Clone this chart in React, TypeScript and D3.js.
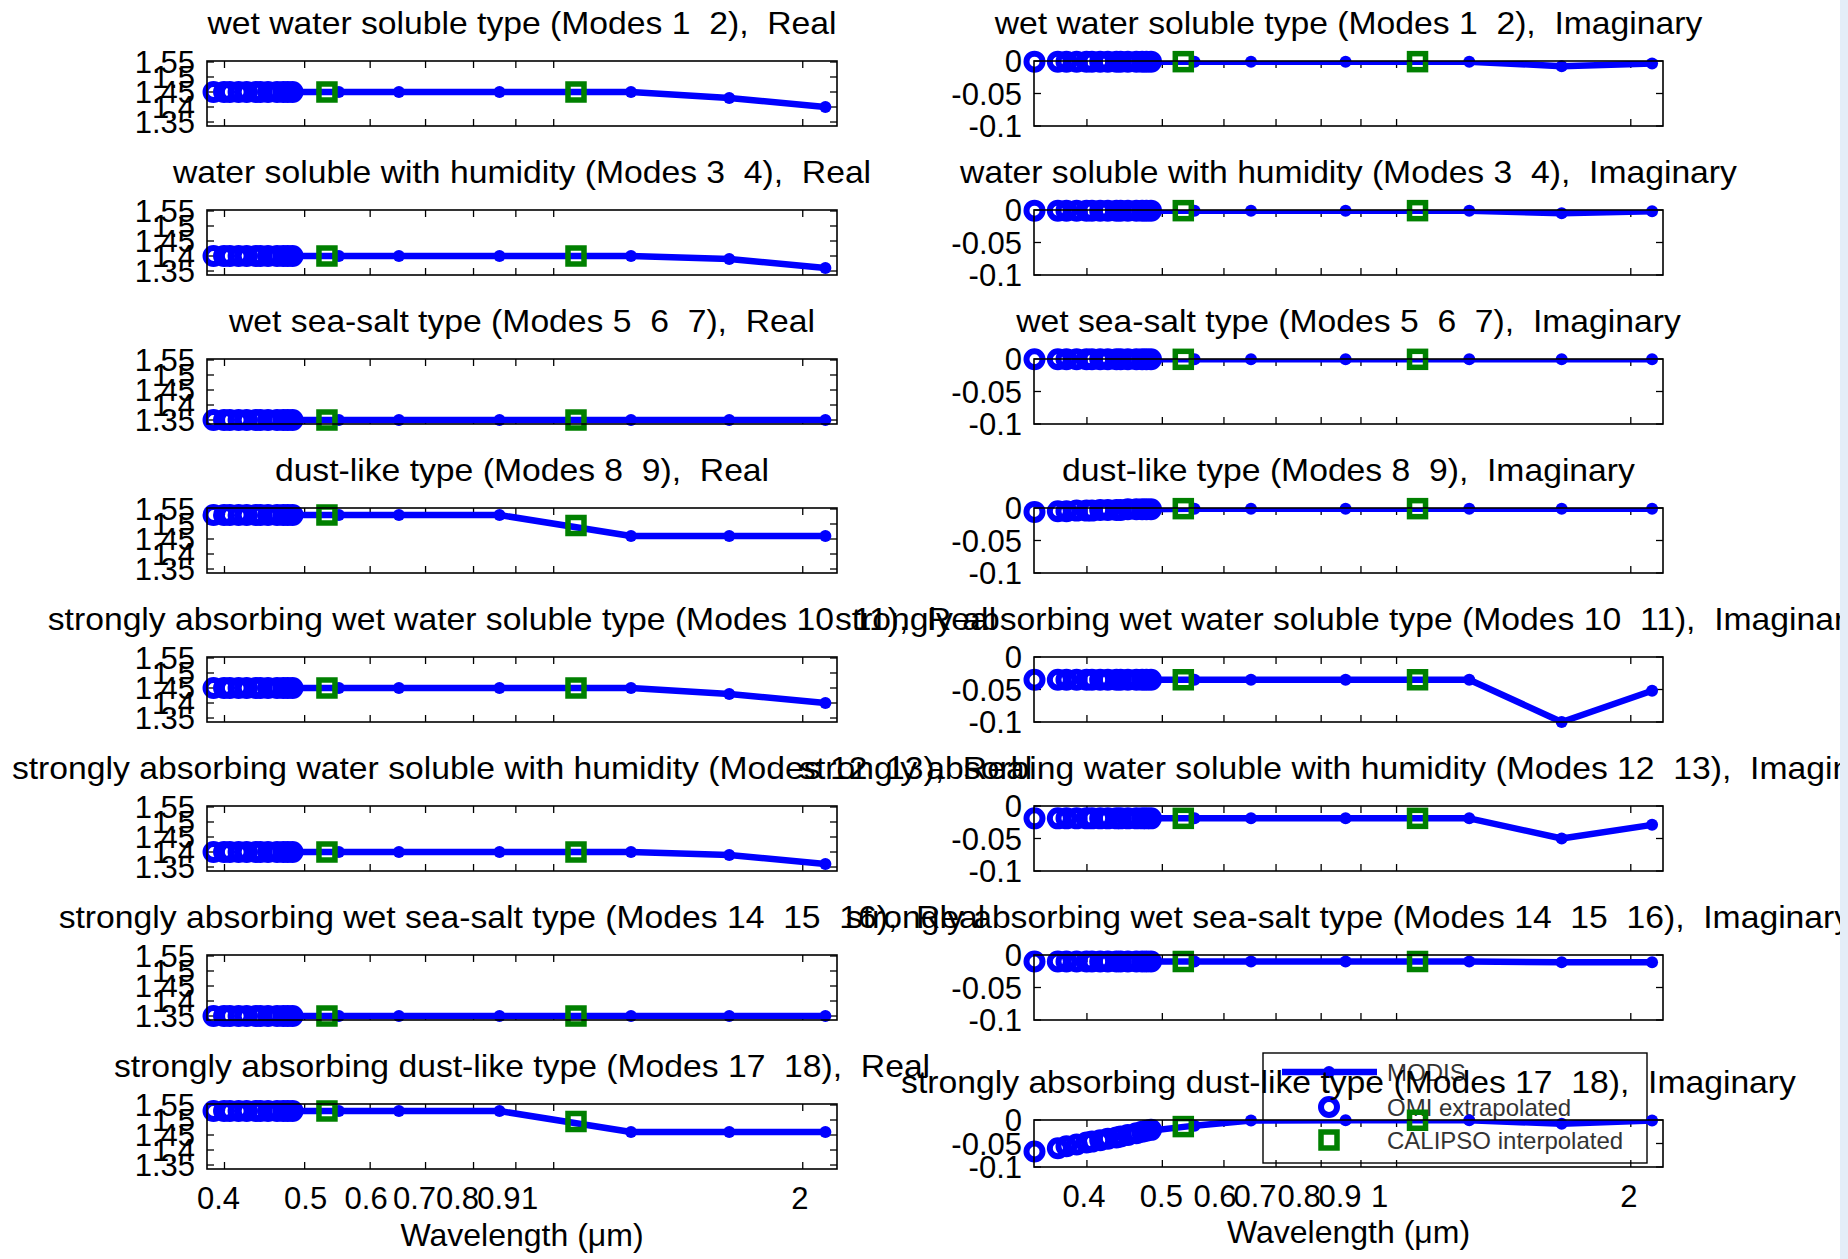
import React from 'react';
import * as d3 from 'd3';

// ---------------- data ----------------
const typeNames = [
  'wet water soluble type (Modes 1  2)',
  'water soluble with humidity (Modes 3  4)',
  'wet sea-salt type (Modes 5  6  7)',
  'dust-like type (Modes 8  9)',
  'strongly absorbing wet water soluble type (Modes 10  11)',
  'strongly absorbing water soluble with humidity (Modes 12  13)',
  'strongly absorbing wet sea-salt type (Modes 14  15  16)',
  'strongly absorbing dust-like type (Modes 17  18)',
];

const modisWl = [0.47, 0.55, 0.65, 0.86, 1.24, 1.63, 2.13];
const calipsoWl = [0.532, 1.064];
const omiRealWl = [0.388, 0.3995, 0.406, 0.416, 0.4255, 0.4365, 0.442, 0.4515, 0.463, 0.471, 0.477, 0.4835];
const omiImagWl = [0.3425, 0.367, 0.3765, 0.388, 0.3995, 0.406, 0.416, 0.4255, 0.4365, 0.442, 0.4515, 0.463, 0.471, 0.477, 0.4835];

const modisReal = [
  [1.45, 1.45, 1.45, 1.45, 1.45, 1.43, 1.40],
  [1.40, 1.40, 1.40, 1.40, 1.40, 1.39, 1.36],
  [1.35, 1.35, 1.35, 1.35, 1.35, 1.35, 1.35],
  [1.53, 1.53, 1.53, 1.53, 1.46, 1.46, 1.46],
  [1.45, 1.45, 1.45, 1.45, 1.45, 1.43, 1.40],
  [1.40, 1.40, 1.40, 1.40, 1.40, 1.39, 1.36],
  [1.35, 1.35, 1.35, 1.35, 1.35, 1.35, 1.35],
  [1.53, 1.53, 1.53, 1.53, 1.46, 1.46, 1.46],
];
const omiReal = [
  [1.45, 1.45, 1.45, 1.45, 1.45, 1.45, 1.45, 1.45, 1.45, 1.45, 1.45, 1.45],
  [1.40, 1.40, 1.40, 1.40, 1.40, 1.40, 1.40, 1.40, 1.40, 1.40, 1.40, 1.40],
  [1.35, 1.35, 1.35, 1.35, 1.35, 1.35, 1.35, 1.35, 1.35, 1.35, 1.35, 1.35],
  [1.53, 1.53, 1.53, 1.53, 1.53, 1.53, 1.53, 1.53, 1.53, 1.53, 1.53, 1.53],
  [1.45, 1.45, 1.45, 1.45, 1.45, 1.45, 1.45, 1.45, 1.45, 1.45, 1.45, 1.45],
  [1.40, 1.40, 1.40, 1.40, 1.40, 1.40, 1.40, 1.40, 1.40, 1.40, 1.40, 1.40],
  [1.35, 1.35, 1.35, 1.35, 1.35, 1.35, 1.35, 1.35, 1.35, 1.35, 1.35, 1.35],
  [1.53, 1.53, 1.53, 1.53, 1.53, 1.53, 1.53, 1.53, 1.53, 1.53, 1.53, 1.53],
];
const calipsoReal = [
  [1.45, 1.45],
  [1.40, 1.40],
  [1.35, 1.35],
  [1.53, 1.495],
  [1.45, 1.45],
  [1.40, 1.40],
  [1.35, 1.35],
  [1.53, 1.495],
];

const modisImag = [
  [-0.001, -0.001, -0.001, -0.001, -0.001, -0.008, -0.004],
  [-0.001, -0.001, -0.001, -0.001, -0.001, -0.005, -0.002],
  [-0.0005, -0.0005, -0.0005, -0.0005, -0.0005, -0.0005, -0.0005],
  [-0.002, -0.001, -0.001, -0.001, -0.001, -0.001, -0.001],
  [-0.035, -0.035, -0.035, -0.035, -0.035, -0.100, -0.052],
  [-0.019, -0.019, -0.019, -0.019, -0.019, -0.050, -0.029],
  [-0.010, -0.010, -0.010, -0.010, -0.010, -0.011, -0.011],
  [-0.025, -0.012, -0.001, -0.0005, -0.0005, -0.008, -0.001],
];
const omiImag = [
  [-0.001, -0.001, -0.001, -0.001, -0.001, -0.001, -0.001, -0.001, -0.001, -0.001, -0.001, -0.001, -0.001, -0.001, -0.001],
  [-0.001, -0.001, -0.001, -0.001, -0.001, -0.001, -0.001, -0.001, -0.001, -0.001, -0.001, -0.001, -0.001, -0.001, -0.001],
  [-0.0005, -0.0005, -0.0005, -0.0005, -0.0005, -0.0005, -0.0005, -0.0005, -0.0005, -0.0005, -0.0005, -0.0005, -0.0005, -0.0005, -0.0005],
  [-0.006, -0.005, -0.005, -0.004, -0.004, -0.004, -0.003, -0.003, -0.003, -0.003, -0.002, -0.002, -0.002, -0.002, -0.002],
  [-0.035, -0.035, -0.035, -0.035, -0.035, -0.035, -0.035, -0.035, -0.035, -0.035, -0.035, -0.035, -0.035, -0.035, -0.035],
  [-0.019, -0.019, -0.019, -0.019, -0.019, -0.019, -0.019, -0.019, -0.019, -0.019, -0.019, -0.019, -0.019, -0.019, -0.019],
  [-0.010, -0.010, -0.010, -0.010, -0.010, -0.010, -0.010, -0.010, -0.010, -0.010, -0.010, -0.010, -0.010, -0.010, -0.010],
  [-0.067, -0.060, -0.056, -0.052, -0.048, -0.046, -0.043, -0.040, -0.037, -0.035, -0.032, -0.028, -0.025, -0.023, -0.021],
];
const calipsoImag = [
  [-0.001, -0.001],
  [-0.001, -0.001],
  [-0.0005, -0.0005],
  [-0.001, -0.001],
  [-0.035, -0.035],
  [-0.019, -0.019],
  [-0.010, -0.010],
  [-0.014, -0.0005],
];

const xTicks = [0.4, 0.5, 0.6, 0.7, 0.8, 0.9, 1, 2];
const xTickLabels = ['0.4', '0.5', '0.6', '0.7', '0.8', '0.9', '1', '2'];
const realTicks = [1.35, 1.4, 1.45, 1.5, 1.55];
const realTickLabels = ['1.35', '1.4', '1.45', '1.5', '1.55'];
const imagTicks = [-0.1, -0.05, 0];
const imagTickLabels = ['-0.1', '-0.05', '0'];
const legendLabels = ['MODIS', 'OMI extrapolated', 'CALIPSO interpolated'];
const xAxisTitle = 'Wavelength (\u03bcm)';

// ---------------- layout / style ----------------
const W = 1848;
const H = 1259;
const FONT = "'Liberation Sans', Arial, Helvetica, sans-serif";
const BLUE = '#0000ff';
const GREEN = '#008000';
const ROW_TOP0 = 61;
const ROW_STEP = 149;
const BOX_H = 65;
const LEFT = { x0: 207, x1: 837, dom: [0.381, 2.2], nudge: [-6, 1, -4, -11, -16, -17, -24, -3] };
const RIGHT = { x0: 1034, x1: 1663, dom: [0.342, 2.2], nudge: [-3, -1, -9, -21, -22, -21, -17, -2] };
const REAL_DOM = [1.3367, 1.5533];
const IMAG_DOM = [-0.1, 0];
const TICK_LEN = 7;
const LINE_W = 6.5;
const DOT_R = 6;
const CIRC_R = 8;
const CIRC_SW = 6;
const SQ = 16;
const SQ_SW = 5.5;

type PanelProps = {
  id: string;
  x0: number; x1: number; y0: number; y1: number;
  xDom: number[]; yDom: number[];
  yTicks: number[]; yLabels: string[];
  title: string;
  modisY: number[]; omiWl: number[]; omiY: number[]; calY: number[];
  showX: boolean;
  xlabBaseline: number;
  nudge: number[];
};

function Panel(p: PanelProps) {
  const x = d3.scaleLog().domain(p.xDom).range([p.x0, p.x1]);
  const y = d3.scaleLinear().domain(p.yDom).range([p.y1, p.y0]);
  const line = d3.line<number>().x((d, i) => x(modisWl[i])).y((d) => y(d));
  const cx = (p.x0 + p.x1) / 2;
  return (
    <g>
      <defs>
        <clipPath id={p.id}>
          <rect x={p.x0} y={p.y0} width={p.x1 - p.x0} height={p.y1 - p.y0} />
        </clipPath>
      </defs>
      {xTicks.map((t, i) => (
        <g key={'xt' + i}>
          <line x1={x(t)} x2={x(t)} y1={p.y1} y2={p.y1 - TICK_LEN} stroke="#000" strokeWidth={1.3} />
          <line x1={x(t)} x2={x(t)} y1={p.y0} y2={p.y0 + TICK_LEN} stroke="#000" strokeWidth={1.3} />
          {p.showX && (
            <text x={x(t) + p.nudge[i]} y={p.xlabBaseline} fontSize={31} fontFamily={FONT} textAnchor="middle">
              {xTickLabels[i]}
            </text>
          )}
        </g>
      ))}
      {p.yTicks.map((t, i) => (
        <g key={'yt' + i}>
          <line x1={p.x0} x2={p.x0 + TICK_LEN} y1={y(t)} y2={y(t)} stroke="#000" strokeWidth={1.3} />
          <line x1={p.x1} x2={p.x1 - TICK_LEN} y1={y(t)} y2={y(t)} stroke="#000" strokeWidth={1.3} />
          <text x={p.x0 - 12} y={y(t)} dy="0.36em" fontSize={31} fontFamily={FONT} textAnchor="end">
            {p.yLabels[i]}
          </text>
        </g>
      ))}
      <path d={line(p.modisY) || ''} fill="none" stroke={BLUE} strokeWidth={LINE_W} strokeLinejoin="round" clipPath={`url(#${p.id})`} />
      {p.modisY.map((v, i) => (
        <circle key={'m' + i} cx={x(modisWl[i])} cy={y(v)} r={DOT_R} fill={BLUE} />
      ))}
      {p.omiY.map((v, i) => (
        <circle key={'o' + i} cx={x(p.omiWl[i])} cy={y(v)} r={CIRC_R} fill="none" stroke={BLUE} strokeWidth={CIRC_SW} />
      ))}
      {p.calY.map((v, i) => (
        <rect key={'c' + i} x={x(calipsoWl[i]) - SQ / 2} y={y(v) - SQ / 2} width={SQ} height={SQ} fill="none" stroke={GREEN} strokeWidth={SQ_SW} />
      ))}
      <rect x={p.x0} y={p.y0} width={p.x1 - p.x0} height={p.y1 - p.y0} fill="none" stroke="#000" strokeWidth={1.6} />
      <text
        transform={`translate(${cx},${p.y0 - 27}) scale(1.087,1)`}
        fontSize={31}
        fontFamily={FONT}
        textAnchor="middle"
        style={{ whiteSpace: 'pre' }}
      >
        {p.title}
      </text>
    </g>
  );
}

export default function App() {
  const panels: React.ReactNode[] = [];
  const lg = { x0: 1263, x1: 1647, y0: 1053, y1: 1163, sx: 1329, tx: 1387, rows: [1072, 1107, 1140] };
  const legend = (
    <g key="legend">
      <rect x={lg.x0} y={lg.y0} width={lg.x1 - lg.x0} height={lg.y1 - lg.y0} fill="none" stroke="#000" strokeWidth={1.4} />
      <line x1={lg.sx - 47} x2={lg.sx + 48} y1={lg.rows[0]} y2={lg.rows[0]} stroke={BLUE} strokeWidth={LINE_W} />
      <circle cx={lg.sx} cy={lg.rows[0]} r={DOT_R} fill={BLUE} />
      <circle cx={lg.sx} cy={lg.rows[1]} r={CIRC_R} fill="none" stroke={BLUE} strokeWidth={CIRC_SW} />
      <rect x={lg.sx - SQ / 2} y={lg.rows[2] - SQ / 2} width={SQ} height={SQ} fill="none" stroke={GREEN} strokeWidth={SQ_SW} />
      {legendLabels.map((s, i) => (
        <text key={s} x={lg.tx} y={lg.rows[i]} dy="0.36em" fontSize={24} fontFamily={FONT} fill="#333">
          {s}
        </text>
      ))}
    </g>
  );
  typeNames.forEach((name, k) => {
    const top = ROW_TOP0 + ROW_STEP * k;
    const last = k === typeNames.length - 1;
    panels.push(
      <Panel
        key={'L' + k}
        id={'clipL' + k}
        x0={LEFT.x0} x1={LEFT.x1} y0={top} y1={top + BOX_H}
        xDom={LEFT.dom} yDom={REAL_DOM}
        yTicks={realTicks} yLabels={realTickLabels}
        title={`${name},  Real`}
        modisY={modisReal[k]} omiWl={omiRealWl} omiY={omiReal[k]} calY={calipsoReal[k]}
        showX={last} xlabBaseline={1209} nudge={LEFT.nudge}
      />
    );
  });
  typeNames.forEach((name, k) => {
    const last = k === typeNames.length - 1;
    const top = last ? 1120 : ROW_TOP0 + ROW_STEP * k;
    const bottom = last ? 1167 : top + BOX_H;
    panels.push(
      <Panel
        key={'R' + k}
        id={'clipR' + k}
        x0={RIGHT.x0} x1={RIGHT.x1} y0={top} y1={bottom}
        xDom={RIGHT.dom} yDom={IMAG_DOM}
        yTicks={imagTicks} yLabels={imagTickLabels}
        title={`${name},  Imaginary`}
        modisY={modisImag[k]} omiWl={omiImagWl} omiY={omiImag[k]} calY={calipsoImag[k]}
        showX={last} xlabBaseline={1207} nudge={RIGHT.nudge}
      />
    );
  });
  return (
    <svg width={W} height={H} style={{ position: 'absolute', left: 0, top: 0, background: '#fff' }}>
      <rect x={0} y={0} width={W} height={H} fill="#fff" />
      {legend}
      {panels}
      <text x={(LEFT.x0 + LEFT.x1) / 2} y={1246} fontSize={32} fontFamily={FONT} textAnchor="middle">{xAxisTitle}</text>
      <text x={(RIGHT.x0 + RIGHT.x1) / 2} y={1243} fontSize={32} fontFamily={FONT} textAnchor="middle">{xAxisTitle}</text>
      <rect x={1840} y={0} width={W - 1840} height={H} fill="#e4edf8" />
    </svg>
  );
}
